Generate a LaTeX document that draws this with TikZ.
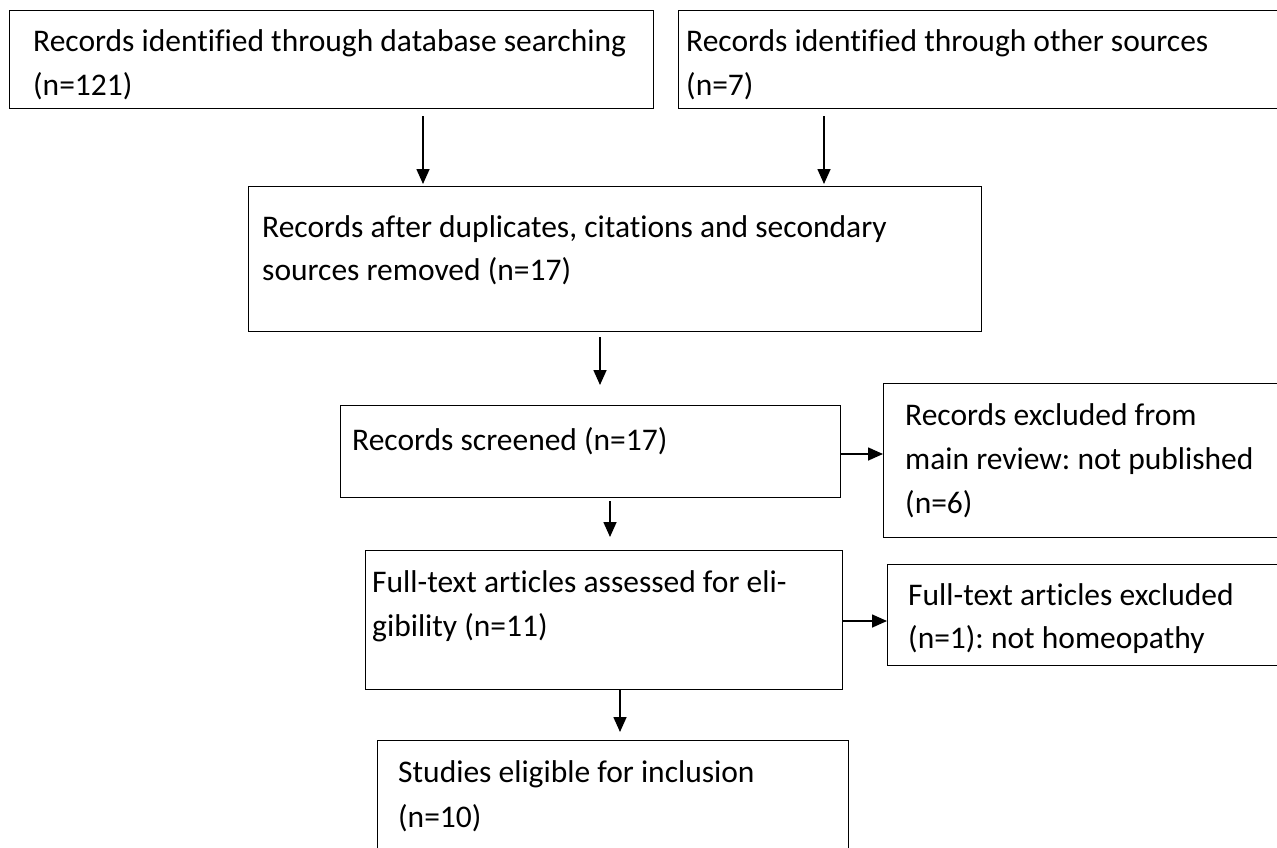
\documentclass[tikz,border=0pt]{standalone}
\usepackage{fontspec}
\setmainfont{Carlito}[Ligatures=NoCommon]
\usetikzlibrary{arrows.meta}
\frenchspacing
\begin{document}
\begin{tikzpicture}[x=1pt,y=-1pt]
\tikzset{
  box/.style={draw, line width=1.3pt, anchor=north west, inner sep=0pt},
  txt/.style={anchor=base west, inner sep=0pt, font=\fontsize{31.5}{44}\selectfont},
  arr/.style={line width=1.6pt, -{Triangle[length=15pt,width=13pt]}}
}
\clip (0,0) rectangle (1277,847);
% boxes
\node[box, minimum width=644pt, minimum height=98pt] (b1) at (9,10) {};
\node[box, minimum width=700pt, minimum height=98pt] (b2) at (678,10) {};
\node[box, minimum width=733pt, minimum height=145pt] (b3) at (248,186) {};
\node[box, minimum width=500pt, minimum height=92pt] (b4) at (340,405) {};
\node[box, minimum width=477pt, minimum height=139pt] (b5) at (365,550) {};
\node[box, minimum width=500pt, minimum height=154pt] (b6) at (883,383) {};
\node[box, minimum width=500pt, minimum height=101pt] (b7) at (887,564) {};
\node[box, minimum width=471pt, minimum height=200pt] (b8) at (377,740) {};
% texts
\node[txt] (t1a) at (33,51) {Records identified through database searching};
\node[txt] (t1b) at (33,95) {(n=121)};
\node[txt] (t2a) at (686,51) {Records identified through other sources};
\node[txt] (t2b) at (686,95) {(n=7)};
\node[txt] (t3a) at (262,237) {Records after duplicates, citations and secondary};
\node[txt] (t3b) at (262,280) {sources removed (n=17)};
\node[txt] (t4) at (352,450) {Records screened (n=17)};
\node[txt] (t5a) at (372,592) {Full-text articles assessed for eli-};
\node[txt] (t5b) at (372,636) {gibility (n=11)};
\node[txt] (t6a) at (905,425) {Records excluded from};
\node[txt] (t6b) at (905,469) {main review: not published};
\node[txt] (t6c) at (905,513) {(n=6)};
\node[txt] (t7a) at (908,605) {Full-text articles excluded};
\node[txt] (t7b) at (908,648) {(n=1): not homeopathy};
\node[txt] (t8a) at (398,782) {Studies eligible for inclusion};
\node[txt] (t8b) at (398,827) {(n=10)};
% connector guides
\coordinate (x1) at (423,0);
\coordinate (x2) at (824,0);
\coordinate (x3) at (600,0);
\coordinate (x4) at (610,0);
\coordinate (x5) at (620,0);
\coordinate (y6) at (0,454);
\coordinate (y7) at (0,621);
% connectors
\draw[arr, shorten <=7pt, shorten >=2pt] (b1.south -| x1) -- (b3.north -| x1);
\draw[arr, shorten <=7pt, shorten >=2pt] (b2.south -| x2) -- (b3.north -| x2);
\draw[arr, shorten <=5pt, shorten >=20pt] (b3.south -| x3) -- (b4.north -| x3);
\draw[arr, shorten <=3pt, shorten >=13pt] (b4.south -| x4) -- (b5.north -| x4);
\draw[arr, shorten >=8pt] (b5.south -| x5) -- (b8.north -| x5);
\draw[arr] (b4.east |- y6) -- (b6.west |- y6);
\draw[arr] (b5.east |- y7) -- (b7.west |- y7);
\end{tikzpicture}
\end{document}
